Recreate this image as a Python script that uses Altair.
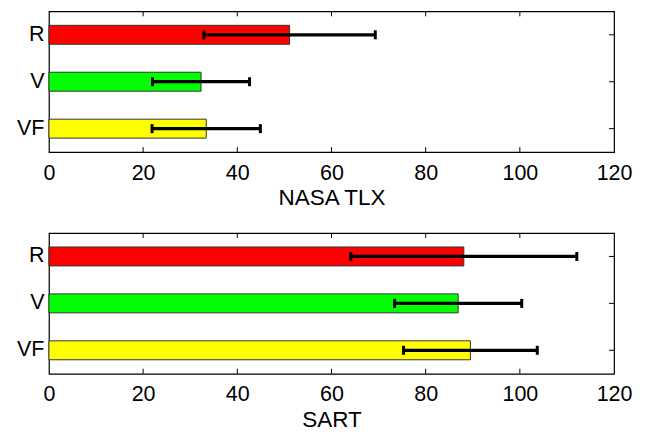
import altair as alt
import pandas as pd

conditions = ["R", "V", "VF"]
bar_colors = ["#ff0000", "#00ff00", "#ffff00"]

tlx_mean = [51.1, 32.3, 33.4]
tlx_err = [18.2, 10.3, 11.5]

sart_mean = [88.1, 86.9, 89.5]
sart_err = [24.0, 13.5, 14.2]

x_tick_values = [0, 20, 40, 60, 80, 100, 120]
inner_ticks = [20, 40, 60, 80, 100]

W, H = 566, 141
FONT = "Liberation Sans"


def panel(means, errs, title):
    df = pd.DataFrame({
        "cond": conditions,
        "mean": means,
        "lo": [m - e for m, e in zip(means, errs)],
        "hi": [m + e for m, e in zip(means, errs)],
    })
    tdf = pd.DataFrame({"t": inner_ticks})
    xs = alt.Scale(domain=[0, 120], nice=False, zero=True)
    ys = alt.Scale(domain=conditions, paddingInner=0.596, paddingOuter=0.298)

    bars = alt.Chart(df).mark_bar(stroke="#333333", strokeWidth=1).encode(
        x=alt.X("mean:Q", scale=xs, title=title,
                axis=alt.Axis(values=x_tick_values, ticks=False, tickSize=0, domain=False,
                              grid=False, labelPadding=10, titlePadding=3, labelFlush=False)),
        y=alt.Y("cond:N", scale=ys, sort=conditions, title=None,
                axis=alt.Axis(ticks=False, tickSize=0, domain=False, labelPadding=5)),
        color=alt.Color("cond:N", scale=alt.Scale(domain=conditions, range=bar_colors), legend=None),
    )
    err = alt.Chart(df).mark_rule(color="black", strokeWidth=3.2).encode(
        x=alt.X("lo:Q", title=title), x2="hi:Q", y=alt.Y("cond:N", title=None, sort=conditions))
    cap_lo = alt.Chart(df).mark_tick(color="black", thickness=3, size=9, opacity=1).encode(
        x=alt.X("lo:Q", title=title), y=alt.Y("cond:N", title=None, sort=conditions))
    cap_hi = alt.Chart(df).mark_tick(color="black", thickness=3, size=9, opacity=1).encode(
        x=alt.X("hi:Q", title=title), y=alt.Y("cond:N", title=None, sort=conditions))
    top_t = alt.Chart(tdf).mark_rule(color="black", strokeWidth=1).encode(
        x=alt.X("t:Q", title=title), y=alt.value(0), y2=alt.value(5))
    bot_t = alt.Chart(tdf).mark_rule(color="black", strokeWidth=1).encode(
        x=alt.X("t:Q", title=title), y=alt.value(H), y2=alt.value(H - 5))
    right_t = alt.Chart(df).mark_rule(color="black", strokeWidth=1).encode(
        y=alt.Y("cond:N", title=None, sort=conditions), x=alt.value(W), x2=alt.value(W - 5))
    return alt.layer(top_t, bot_t, right_t, bars, err, cap_lo, cap_hi).properties(width=W, height=H)


chart = alt.vconcat(
    panel(tlx_mean, tlx_err, "NASA TLX"),
    panel(sart_mean, sart_err, "SART"),
    spacing=21,
).configure_view(stroke="black", strokeWidth=1.2).configure_axis(
    labelFont=FONT, titleFont=FONT, labelFontSize=21.5, titleFontSize=22.5,
    titleFontWeight="normal", labelColor="black", titleColor="black",
).properties(padding={"left": 7, "top": 1, "right": 5, "bottom": 0})

chart.save("out.html", embed_options={"renderer": "svg", "actions": False})
